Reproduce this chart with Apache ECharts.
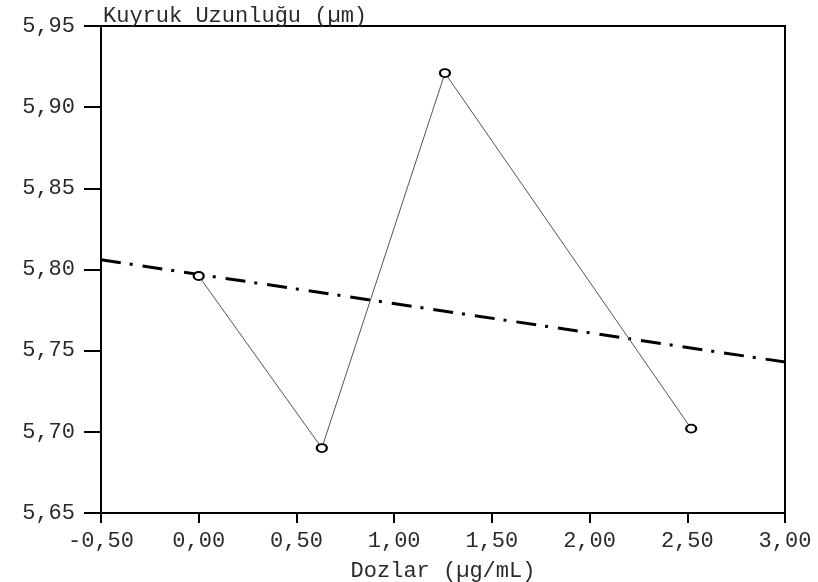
<!DOCTYPE html>
<html>
<head>
<meta charset="utf-8">
<script src="https://cdn.jsdelivr.net/npm/echarts@6/dist/echarts.min.js"></script>
<style>
html,body{margin:0;padding:0;background:#fff;}
#chart{width:818px;height:582px;}
</style>
</head>
<body>
<div id="chart"></div>
<script>
// Data
const doses = [0, 0.63, 1.26, 2.52];
const tailLength = [5.796, 5.690, 5.921, 5.702];
const trendX = [-0.5, 3.0];
const trendY = [5.806, 5.743];
const xTickLabels = ['-0,50', '0,00', '0,50', '1,00', '1,50', '2,00', '2,50', '3,00'];
const yTickLabels = ['5,65', '5,70', '5,75', '5,80', '5,85', '5,90', '5,95'];
const yTitle = 'Kuyruk Uzunluğu (µm)';
const xTitle = 'Dozlar (µg/mL)';

const FONT = '"Liberation Mono", "DejaVu Sans Mono", monospace';
const FS = 22;
const TXT = '#2a2a2a';

const xMin = -0.5, xMax = 3.0, xInt = 0.5;
const yMin = 5.65, yMax = 5.95, yInt = 0.05;

const chart = echarts.init(document.getElementById('chart'));
chart.setOption({
  animation: false,
  backgroundColor: '#fff',
  title: {
    text: yTitle,
    left: 103,
    top: 5,
    padding: 0,
    textStyle: {fontFamily: FONT, fontSize: FS, fontWeight: 'normal', color: TXT}
  },
  grid: {
    left: 101, right: 33, top: 26, bottom: 69,
    outerBoundsMode: 'none',
    containLabel: false,
    show: true, borderColor: '#000', borderWidth: 2, backgroundColor: 'transparent'
  },
  xAxis: {
    type: 'value',
    min: xMin, max: xMax, interval: xInt,
    name: xTitle,
    nameLocation: 'middle',
    nameGap: 47,
    nameTextStyle: {fontFamily: FONT, fontSize: FS, color: TXT},
    axisLine: {show: true, onZero: false, lineStyle: {color: '#000', width: 2}},
    axisTick: {show: true, inside: false, length: 10, lineStyle: {color: '#000', width: 2}},
    axisLabel: {
      margin: 17,
      fontFamily: FONT, fontSize: FS, color: TXT,
      formatter: v => xTickLabels[Math.round((v - xMin) / xInt)]
    },
    splitLine: {show: false}
  },
  yAxis: {
    type: 'value',
    min: yMin, max: yMax, interval: yInt,
    axisLine: {show: true, onZero: false, lineStyle: {color: '#000', width: 2}},
    axisTick: {show: true, inside: false, length: 17, lineStyle: {color: '#000', width: 2}},
    axisLabel: {
      margin: 26,
      fontFamily: FONT, fontSize: FS, color: TXT,
      formatter: v => yTickLabels[Math.round((v - yMin) / yInt)]
    },
    splitLine: {show: false}
  },
  series: [
    {
      type: 'line',
      data: doses.map((d, i) => [d, tailLength[i]]),
      symbol: 'emptyCircle',
      symbolSize: [10, 8],
      lineStyle: {color: '#555', width: 1},
      itemStyle: {color: '#000', borderColor: '#000', borderWidth: 1.3},
      z: 3
    },
    {
      type: 'line',
      data: trendX.map((d, i) => [d, trendY[i]]),
      symbol: 'none',
      lineStyle: {color: '#000', width: 3, type: [20, 9, 3, 10]},
      z: 2
    }
  ]
});
</script>
</body>
</html>
